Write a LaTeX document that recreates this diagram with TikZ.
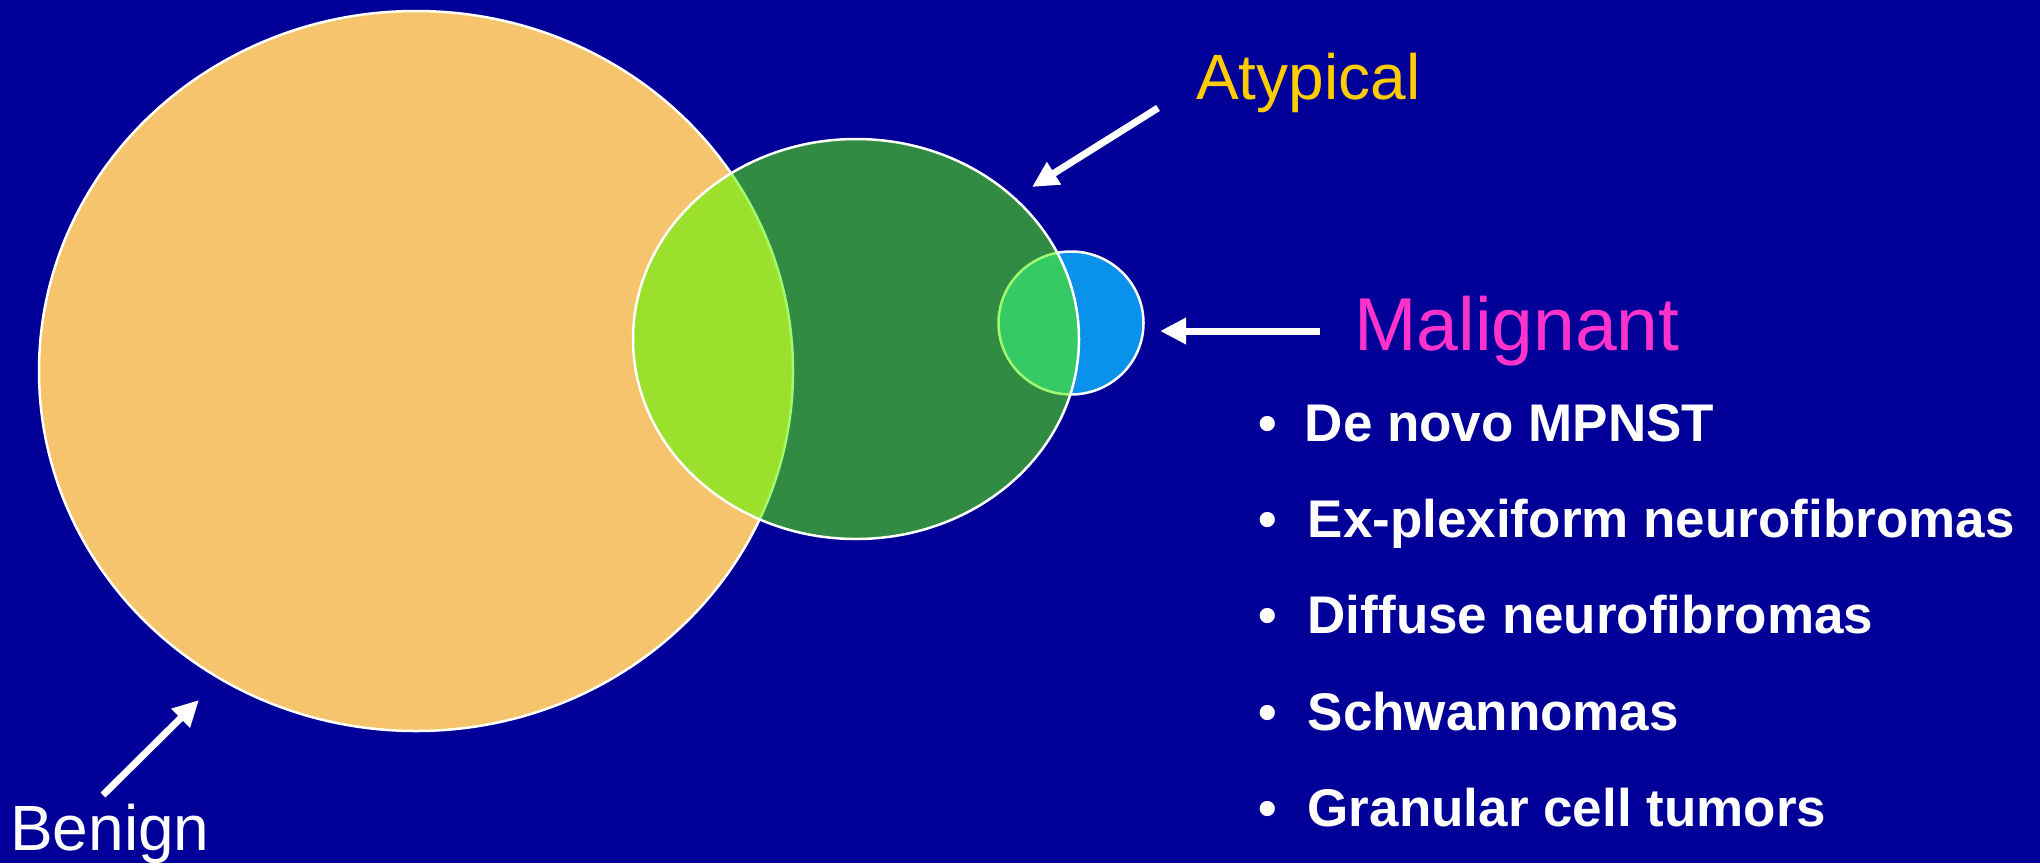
\documentclass[tikz,border=0pt]{standalone}
\usepackage{fontspec}
\setmainfont{Liberation Sans}
\usepackage{tikz}
\usetikzlibrary{shapes.geometric, arrows.meta, positioning}

\definecolor{bgblue}{RGB}{0,0,153}
\definecolor{benignfill}{RGB}{246,196,108}
\definecolor{atypfill}{RGB}{88,246,0}
\definecolor{malfill}{RGB}{10,145,235}
\definecolor{atypyellow}{RGB}{255,204,0}
\definecolor{malpink}{RGB}{255,51,204}

\tikzset{
  zone/.style={ellipse, draw=white, line width=2.5pt, inner sep=0pt},
  pointer/.style={draw=white, line width=7pt, -{Triangle[length=26pt, width=25pt]}},
  tag/.style={anchor=base west, inner sep=0pt},
  item/.style={anchor=base west, inner sep=0pt, text=white, font=\fontsize{53}{53}\selectfont\bfseries}
}

\begin{document}
\begin{tikzpicture}[x=1pt, y=-1pt]

        % Fondo
        \fill [bgblue] (0,0) rectangle (2040,863);
        \useasboundingbox (0,0) rectangle (2040,863);

        % Zonas
        \node (benign) [zone, fill=benignfill, minimum width=754pt, minimum height=720pt] at (416,371) {};
        \node (malignant) [zone, fill=malfill, minimum width=145pt, minimum height=143pt] at (1071,323) {};
        \node (atypical) [zone, fill=atypfill, fill opacity=0.57, minimum width=446pt, minimum height=400pt] at (856,339) {};

        % Etiquetas
        \node (atyplabel) [tag, text=atypyellow, font=\fontsize{64}{64}\selectfont] at (1196,99) {Atypical};
        \node (mallabel) [tag, text=malpink, font=\fontsize{75}{75}\selectfont] at (1354,350) {Malignant};
        \node (benlabel) [tag, text=white, font=\fontsize{64}{64}\selectfont] at (10,850) {Benign};

        % Flechas
        \coordinate (atyptail) at (1158,108);
        \coordinate (atyptip) at (1032,187);
        \coordinate (maltail) at (1320,331);
        \coordinate (maltip) at (1160,331);
        \coordinate (bentail) at (103,795);
        \coordinate (bentip) at (199,700);
        \draw [pointer] (atyptail) -- (atyptip);
        \draw [pointer] (maltail) -- (maltip);
        \draw [pointer] (bentail) -- (bentip);

        % Lista
        \node (item1) [item] at (1258,441) {•\hspace{28pt}De novo MPNST};
        \node (item2) [item] at (1258,537) {•\hspace{31pt}Ex-plexiform neurofibromas};
        \node (item3) [item] at (1258,633) {•\hspace{31pt}Diffuse neurofibromas};
        \node (item4) [item] at (1258,730) {•\hspace{31pt}Schwannomas};
        \node (item5) [item] at (1258,826) {•\hspace{31pt}Granular cell tumors};

\end{tikzpicture}
\end{document}
